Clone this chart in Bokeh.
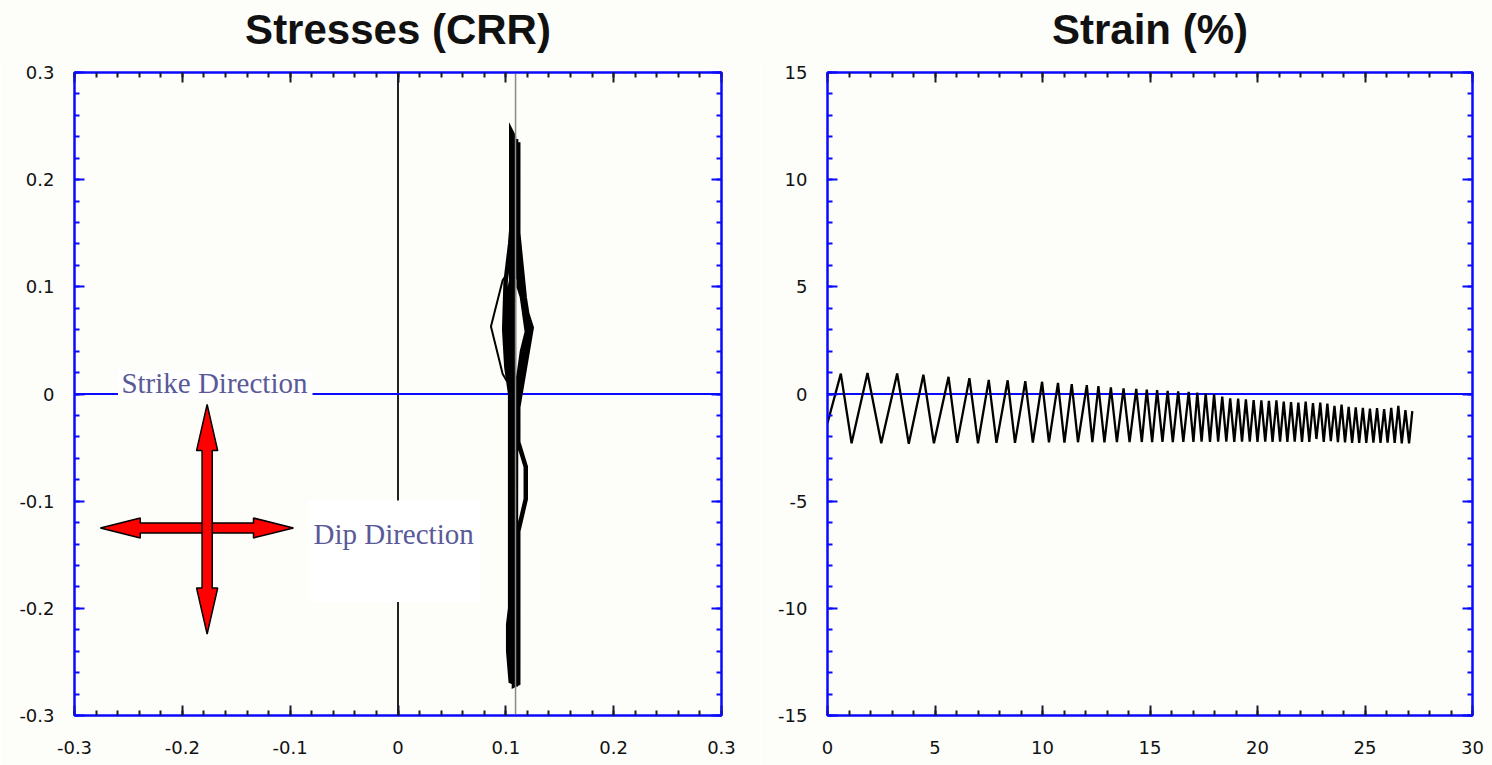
import numpy as np
from bokeh.plotting import figure
from bokeh.layouts import row, column
from bokeh.models import FixedTicker, LinearAxis, Range1d
from bokeh.core.properties import value
from bokeh.embed import file_html
from bokeh.resources import INLINE

# ---------------- data ----------------
# Stress path in the CRR plane (dip-direction component, strike-direction component).
# Repeated loading cycles, drawn as one heavy path.
stress_x = [0.1050, 0.1050, 0.1075, 0.1075, 0.1115, 0.1115, 0.1185, 0.1185, 0.1115, 0.1115,
            0.1175, 0.1225, 0.1175, 0.1135, 0.1115, 0.1115, 0.1040, 0.0998, 0.0985, 0.1005,
            0.1040, 0.1040, 0.1022, 0.1022, 0.1045, 0.1092, 0.1095, 0.1150, 0.1195, 0.1150,
            0.1095, 0.1095, 0.1060, 0.1060, 0.1012, 0.1012, 0.1060, 0.1060, 0.1240, 0.1120,
            0.1120]
stress_y = [-0.268, 0.245, 0.240, -0.272, -0.270, -0.128, -0.098, -0.068, -0.045, 0.000,
            0.030, 0.058, 0.090, 0.130, 0.150, 0.235, 0.140, 0.105, 0.060, 0.025,
            0.000, -0.200, -0.215, -0.240, -0.268, -0.270, 0.000, 0.040, 0.058, 0.090,
            0.120, 0.238, 0.150, 0.112, 0.085, 0.040, 0.010, -0.045, 0.062, 0.100,
            0.140]
# first loading loop, which strays further to the left
first_loop_x = [0.1010, 0.0970, 0.0862, 0.0970, 0.1010]
first_loop_y = [0.112, 0.106, 0.063, 0.019, 0.012]
static_stress = 0.109

# Strain history: start point, then each loading cycle's peak and trough
strain_start = (0.0, -1.35)
peak_t = [0.62, 1.86, 3.24, 4.46, 5.63, 6.60, 7.50, 8.38, 9.20, 9.98,
          10.72, 11.36, 12.06, 12.60, 13.18, 13.77, 14.36, 14.85, 15.33, 15.82,
          16.31, 16.80, 17.20, 17.59, 17.98, 18.36, 18.73, 19.10, 19.46, 19.82,
          20.18, 20.53, 20.88, 21.22, 21.56, 21.90, 22.24, 22.58, 22.92, 23.25,
          23.58, 23.91, 24.24, 24.57, 24.90, 25.23, 25.56, 25.89, 26.22, 26.55,
          26.88]
peak_v = [0.95, 0.98, 0.96, 0.90, 0.80, 0.74, 0.66, 0.64, 0.60, 0.57,
          0.52, 0.46, 0.41, 0.37, 0.31, 0.26, 0.24, 0.21, 0.18, 0.15,
          0.12, 0.10, 0.06, 0.03, 0.00, -0.12, -0.20, -0.22, -0.25, -0.28,
          -0.30, -0.32, -0.30, -0.35, -0.38, -0.40, -0.36, -0.42, -0.40, -0.45,
          -0.55, -0.50, -0.60, -0.62, -0.65, -0.68, -0.66, -0.70, -0.65, -0.55,
          -0.75]
trough_t = [1.12, 2.50, 3.78, 4.95, 6.03, 7.00, 7.86, 8.72, 9.55, 10.30,
            11.02, 11.65, 12.32, 12.88, 13.46, 14.05, 14.62, 15.10, 15.58, 16.06,
            16.55, 17.02, 17.40, 17.79, 18.17, 18.55, 18.92, 19.28, 19.64, 20.00,
            20.36, 20.70, 21.05, 21.39, 21.73, 22.07, 22.41, 22.74, 23.08, 23.41,
            23.74, 24.07, 24.40, 24.73, 25.06, 25.39, 25.72, 26.05, 26.38, 26.71,
            27.05]
trough_v = [-2.30, -2.30, -2.32, -2.30, -2.28, -2.30, -2.28, -2.28, -2.27, -2.26,
            -2.27, -2.25, -2.25, -2.26, -2.24, -2.25, -2.24, -2.25, -2.23, -2.24,
            -2.23, -2.24, -2.22, -2.23, -2.22, -2.22, -2.23, -2.22, -2.22, -2.23,
            -2.22, -2.23, -2.22, -2.23, -2.22, -2.24, -2.23, -2.10, -2.24, -2.20,
            -2.25, -2.26, -2.28, -2.28, -2.28, -2.27, -2.28, -2.27, -2.28, -2.30,
            -2.30]
strain_end = (27.20, -0.80)

# Axis ticks, labels and panel headings
stress_ticks = [-0.3, -0.2, -0.1, 0.0, 0.1, 0.2, 0.3]
stress_labels = ["-0.3", "-0.2", "-0.1", "0", "0.1", "0.2", "0.3"]
strain_x_ticks = [0, 5, 10, 15, 20, 25, 30]
strain_x_labels = ["0", "5", "10", "15", "20", "25", "30"]
strain_y_ticks = [-15, -10, -5, 0, 5, 10, 15]
strain_y_labels = ["-15", "-10", "-5", "0", "5", "10", "15"]
headings = ["Stresses (CRR)", "Strain (%)"]

# ---------------- styling ----------------
BG = "#fdfdfa"
BLUE = "#0a0aff"
TICK_DARK = "#1a1a2a"
TICK_FONT = "DejaVu Sans"
TITLE_FONT = "Liberation Sans"
NOTE_COLOR = "#5a5a98"
HEAD_H = 56          # height of the heading strip above each panel
PLOT_H = 765 - HEAD_H
FRAME_TOP = 72       # distance from page top to the plot frames


def style_axis(ax, ticker, labels, tick_color, show_labels=True):
    ax.ticker = ticker
    ax.axis_line_color = BLUE
    ax.axis_line_width = 2
    ax.major_tick_in = 10
    ax.major_tick_out = 0
    ax.minor_tick_in = 5
    ax.minor_tick_out = 0
    ax.major_tick_line_color = tick_color
    ax.minor_tick_line_color = tick_color
    ax.major_tick_line_width = 2
    ax.minor_tick_line_width = 2
    if show_labels:
        ax.major_label_overrides = {float(t): l for t, l in zip(ticker.ticks, labels)}
        ax.major_label_text_font = TICK_FONT
        ax.major_label_text_font_size = "18px"
        ax.major_label_text_color = "#111111"
    else:
        ax.major_label_text_color = None
        ax.major_label_text_alpha = 0
        ax.major_label_text_font_size = "0px"
        ax.major_label_standoff = 0


def make_heading(width, text, center_px):
    h = figure(width=width, height=HEAD_H, x_range=Range1d(0, width), y_range=Range1d(0, HEAD_H),
               output_backend="svg", toolbar_location=None, title_location=None,
               min_border=0, background_fill_color=BG, border_fill_color=BG,
               outline_line_color=None)
    h.axis.visible = False
    h.grid.visible = False
    h.text(x=[center_px], y=[HEAD_H - 29], text=[text], text_align="center",
           text_baseline="alphabetic", text_font=value(TITLE_FONT), text_font_style="bold",
           text_font_size="42px", text_color="#111111")
    return h


def make_figure(width, xr, yr, xt, xl, yt, yl, borders):
    left, right = borders
    p = figure(width=width, height=PLOT_H, x_range=xr, y_range=yr,
               output_backend="svg", toolbar_location=None, title_location=None,
               min_border_left=left, min_border_right=right,
               min_border_top=FRAME_TOP - HEAD_H, min_border_bottom=50,
               background_fill_color=BG, border_fill_color=BG)
    p.grid.visible = False
    p.outline_line_color = BLUE
    p.outline_line_width = 2
    style_axis(p.xaxis[0], xt, xl, TICK_DARK)
    style_axis(p.yaxis[0], yt, yl, BLUE)
    p.xaxis[0].major_label_standoff = 25
    p.yaxis[0].major_label_standoff = 20
    top = LinearAxis()
    style_axis(top, xt, xl, TICK_DARK, show_labels=False)
    p.add_layout(top, "above")
    rgt = LinearAxis()
    style_axis(rgt, yt, yl, BLUE, show_labels=False)
    p.add_layout(rgt, "right")
    return p


stress_minor = list(np.round(np.arange(-0.3, 0.3001, 0.02), 2))
strain_x_minor = list(range(0, 31))
strain_y_minor = list(range(-15, 16))

p1 = make_figure(760, Range1d(-0.3, 0.3), Range1d(-0.3, 0.3),
                 FixedTicker(ticks=stress_ticks, minor_ticks=stress_minor), stress_labels,
                 FixedTicker(ticks=stress_ticks, minor_ticks=stress_minor), stress_labels,
                 (74, 39))

p2 = make_figure(732, Range1d(0, 30), Range1d(-15, 15),
                 FixedTicker(ticks=strain_x_ticks, minor_ticks=strain_x_minor), strain_x_labels,
                 FixedTicker(ticks=strain_y_ticks, minor_ticks=strain_y_minor), strain_y_labels,
                 (67, 20))

h1 = make_heading(760, headings[0], 74 + 647 / 2)
h2 = make_heading(732, headings[1], 67 + 645 / 2)

# ---------------- stresses panel ----------------
p1.segment(x0=[0.0], y0=[-0.3], x1=[0.0], y1=[0.3], line_color="#222222", line_width=2)
p1.segment(x0=[-0.3], y0=[0.0], x1=[0.3], y1=[0.0], line_color=BLUE, line_width=2)

p1.line(stress_x, stress_y, line_color="black", line_width=4.5, line_join="miter")
p1.line(first_loop_x, first_loop_y, line_color="black", line_width=2)
p1.segment(x0=[static_stress], y0=[-0.3], x1=[static_stress], y1=[0.3],
           line_color="#8a8a8a", line_width=1.5)

# white boxes behind the direction notes
p1.quad(left=[-0.2597], right=[-0.0793], top=[0.0219], bottom=[-0.0051],
        fill_color="white", line_color=None)
p1.quad(left=[-0.0830], right=[0.0765], top=[-0.0993], bottom=[-0.1940],
        fill_color="white", line_color=None)
p1.text(x=[-0.2565, -0.0784], y=[0.0098, -0.1310],
        text=["Strike Direction", "Dip Direction"],
        text_font=value("Liberation Serif"), text_font_size="29px",
        text_color=NOTE_COLOR, text_align="left", text_baseline="alphabetic")

# double-headed direction arrows
cx, cy = -0.177, -0.125
hx0, hx1 = -0.276, -0.097          # horizontal arrow ends
vy0, vy1 = -0.224, -0.0098         # vertical arrow ends
head_len_x, head_half_y, shaft_half_y = 0.037, 0.0093, 0.0047
head_len_y, head_half_x, shaft_half_x = 0.043, 0.0098, 0.0047

hxs = [hx0, hx0 + head_len_x, hx0 + head_len_x, hx1 - head_len_x, hx1 - head_len_x, hx1,
       hx1 - head_len_x, hx1 - head_len_x, hx0 + head_len_x, hx0 + head_len_x]
hys = [cy, cy + head_half_y, cy + shaft_half_y, cy + shaft_half_y, cy + head_half_y, cy,
       cy - head_half_y, cy - shaft_half_y, cy - shaft_half_y, cy - head_half_y]
p1.patch(hxs, hys, fill_color="#ff0000", line_color="black", line_width=1.5)

vys = [vy0, vy0 + head_len_y, vy0 + head_len_y, vy1 - head_len_y, vy1 - head_len_y, vy1,
       vy1 - head_len_y, vy1 - head_len_y, vy0 + head_len_y, vy0 + head_len_y]
vxs = [cx, cx + head_half_x, cx + shaft_half_x, cx + shaft_half_x, cx + head_half_x, cx,
       cx - head_half_x, cx - shaft_half_x, cx - shaft_half_x, cx - head_half_x]
p1.patch(vxs, vys, fill_color="#ff0000", line_color="black", line_width=1.5)

# ---------------- strain panel ----------------
p2.segment(x0=[0], y0=[0], x1=[30], y1=[0], line_color=BLUE, line_width=2)

strain_t = [strain_start[0]]
strain_v = [strain_start[1]]
for pt, pv, tt, tv in zip(peak_t, peak_v, trough_t, trough_v):
    strain_t += [pt, tt]
    strain_v += [pv, tv]
strain_t.append(strain_end[0])
strain_v.append(strain_end[1])
p2.line(strain_t, strain_v, line_color="black", line_width=2.3)

layout = column(row(h1, h2), row(p1, p2))
with open("out.html", "w") as f:
    f.write(file_html(layout, INLINE))
